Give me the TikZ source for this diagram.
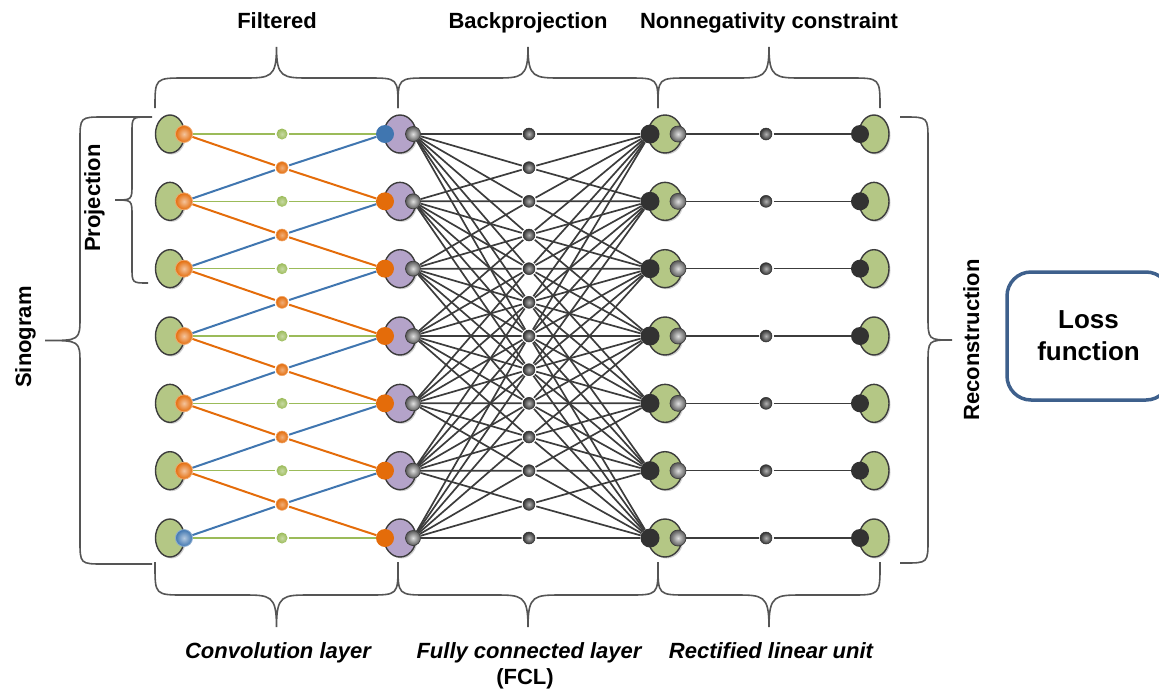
\documentclass[tikz,border=0pt]{standalone}
\usepackage{fontspec}
\setmainfont{Liberation Sans}
\usetikzlibrary{shapes.geometric,backgrounds,shadows}

\definecolor{ellgreen}{RGB}{180,199,133}
\definecolor{ellpurple}{RGB}{180,163,201}
\definecolor{edgegray}{RGB}{60,60,60}
\definecolor{orng}{RGB}{228,108,10}
\definecolor{blu}{RGB}{64,118,176}
\definecolor{grnline}{RGB}{155,187,89}
\definecolor{darkdot}{RGB}{50,50,50}
\definecolor{fclline}{RGB}{60,60,60}
\definecolor{bracegray}{RGB}{85,85,85}
\definecolor{lossblue}{RGB}{62,96,140}

\newcommand\hbrc[6]{%
  \pgfmathsetmacro\bxm{(#1+#2)/2}%
  \pgfmathsetmacro\bya{#4+((#3>#4)?1:-1)*#6}%
  \draw[bracestyle] (#1,#3) -- (#1,\bya) .. controls (#1,#4) .. (#1+#6,#4) -- (\bxm-#6-4,#4) .. controls (\bxm-6,#4) and (\bxm,#4) .. (\bxm,#5) .. controls (\bxm,#4) and (\bxm+6,#4) .. (\bxm+#6+4,#4) -- (#2-#6,#4) .. controls (#2,#4) .. (#2,\bya) -- (#2,#3);%
}
\newcommand\vbrc[6]{%
  \pgfmathsetmacro\bym{(#1+#2)/2}%
  \pgfmathsetmacro\bxa{#4+((#3>#4)?1:-1)*#6}%
  \draw[bracestyle] (#3,#1) -- (\bxa,#1) .. controls (#4,#1) .. (#4,#1+#6) -- (#4,\bym-#6) .. controls (#4,\bym) .. (#5,\bym) .. controls (#4,\bym) .. (#4,\bym+#6) -- (#4,#2-#6) .. controls (#4,#2) .. (\bxa,#2) -- (#3,#2);%
}

\begin{document}
\begin{tikzpicture}[x=1pt,y=-1pt,
  bracestyle/.style={draw=bracegray, line width=1.6pt},
  ellbase/.style={ellipse, draw=edgegray, line width=1.4pt, minimum width=32pt, minimum height=38pt, inner sep=0pt,
     drop shadow={shadow xshift=1.5pt, shadow yshift=-1.5pt, opacity=0.18, fill=black}},
  gell/.style={ellbase, fill=ellgreen},
  pell/.style={ellbase, fill=ellpurple},
  sball/.style={circle, inner sep=0pt, minimum size=17pt, shading=radial, inner color=#1!40!white, outer color=#1, draw=#1!60!white, line width=0.8pt},
  flatdot/.style={circle, inner sep=0pt, minimum size=18pt, fill=#1},
  grayball/.style={circle, inner sep=0pt, minimum size=15pt, shading=radial, inner color=gray!25, outer color=gray!70!black, draw=edgegray, line width=0.7pt},
  smalldot/.style={circle, inner sep=0pt, minimum size=#1, outer sep=1.5pt},
  gdot/.style={smalldot=11pt, shading=radial, inner color=grnline!55!white, outer color=grnline},
  odot/.style={smalldot=12pt, shading=radial, inner color=orng!55!white, outer color=orng, draw=orng!60!white, line width=0.6pt},
  mdot/.style={smalldot=12pt, shading=radial, inner color=gray!60, outer color=darkdot, draw=darkdot, line width=0.5pt},
  gline/.style={draw=grnline, line width=1.3pt},
  oline/.style={draw=orng, line width=2pt},
  bline/.style={draw=blu, line width=2pt},
  fline/.style={draw=fclline, line width=1.7pt},
  lbl/.style={font=\bfseries\fontsize{22}{26}\selectfont, inner sep=0pt, anchor=base},
  ilbl/.style={font=\bfseries\itshape\fontsize{22}{26}\selectfont, inner sep=0pt, anchor=base}
]
\useasboundingbox (0,0) rectangle (1159,689);

% ---------- nodes ----------
\foreach \i in {1,...,7} {
  \pgfmathsetmacro\yy{134+67.333*(\i-1)}
  \node[gell, minimum width=29pt] (s\i) at (170,\yy) {};
  \ifnum\i=7
    \node[sball=blu] (sb\i) at (184,\yy) {};
  \else
    \node[sball=orng] (sb\i) at (184,\yy) {};
  \fi
  \node[gdot] (cg\i) at (282,\yy) {};
  \node[pell] (f\i) at (400,\yy) {};
  \ifnum\i=1
    \node[flatdot=blu] (fd\i) at (385,\yy) {};
  \else
    \node[flatdot=orng] (fd\i) at (385,\yy) {};
  \fi
  \node[grayball] (fg\i) at (413,\yy) {};
  \node[gell, minimum width=34pt] (r\i) at (665,\yy) {};
  \node[flatdot=darkdot, minimum size=19pt] (rd\i) at (650,\yy) {};
  \node[grayball, minimum size=16pt] (rg\i) at (678,\yy) {};
  \node[mdot] (rm\i) at (766,\yy) {};
  \node[gell, minimum width=30pt] (e\i) at (874,\yy) {};
  \node[flatdot=darkdot] (ed\i) at (860,\yy) {};
}
\foreach \i in {1,...,6} {
  \pgfmathsetmacro\yy{134+67.333*(\i-0.5)}
  \node[odot] (co\i) at (282,\yy) {};
}
\foreach \q in {0,...,12} {
  \pgfmathsetmacro\yy{134+33.667*\q}
  \node[mdot] (m\q) at (529,\yy) {};
}

% ---------- connectors ----------
\begin{pgfonlayer}{background}
\foreach \i in {1,...,7} {
  \draw[gline] (sb\i) -- (cg\i);
  \draw[gline] (cg\i) -- (fd\i);
  \draw[fline, line width=1.5pt] (rg\i) -- (rm\i);
  \draw[fline, line width=1.5pt] (rm\i) -- (ed\i);
  \foreach \k in {0,...,6} {
    \pgfmathtruncatemacro\qq{\i-1+\k}
    \draw[fline] (fg\i) -- (m\qq);
    \draw[fline] (m\qq) -- (rd\i);
  }
}
\foreach \i in {1,...,6} {
  \pgfmathtruncatemacro\jj{\i+1}
  \draw[oline] (sb\i) -- (co\i);
  \draw[oline] (co\i) -- (fd\jj);
  \draw[bline] (sb\jj) -- (co\i);
  \draw[bline] (co\i) -- (fd\i);
}
\end{pgfonlayer}

% ---------- braces ----------
\hbrc{155}{398}{108}{78}{47}{30}
\hbrc{398}{658}{108}{78}{47}{30}
\hbrc{658}{880}{108}{78}{47}{30}
\hbrc{155}{398}{562}{595}{627}{30}
\hbrc{398}{658}{562}{595}{627}{30}
\hbrc{658}{880}{562}{595}{627}{30}
\vbrc{117}{283}{148}{132}{115}{16}
\vbrc{117}{564}{152}{80}{45}{24}
\vbrc{117}{563}{900}{928}{952}{24}

% ---------- labels ----------
\node[lbl] (tFilt) at (277,28) {Filtered};
\node[lbl] (tBack) at (528,28) {Backprojection};
\node[lbl] (tNonneg) at (769,28) {Nonnegativity constraint};
\node[ilbl] (tConv) at (278,658) {Convolution layer};
\node[ilbl] (tFCL) at (529,658) {Fully connected layer};
\node[lbl] (tFCLb) at (525,684) {(FCL)};
\node[ilbl] (tReLU) at (771,658) {Rectified linear unit};
\node[lbl, rotate=90] (tProj) at (100,198) {Projection};
\node[lbl, rotate=90] (tSino) at (31,337) {Sinogram};
\node[lbl, rotate=90] (tRecon) at (979,340) {Reconstruction};

\node[draw=lossblue, line width=3.5pt, rounded corners=24pt, minimum width=163pt, minimum height=128pt,
      align=center, font=\bfseries\fontsize{26}{32}\selectfont] (loss) at (1088.5,336) {Loss\\function};
\end{tikzpicture}
\end{document}
